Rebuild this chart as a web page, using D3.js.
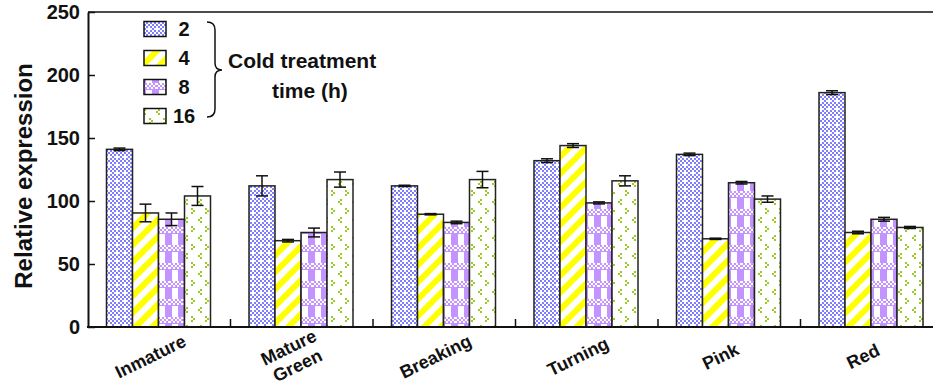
<!DOCTYPE html>
<html>
<head>
<meta charset="utf-8">
<script src="https://cdn.jsdelivr.net/npm/d3@7"></script>
<style>
  body { margin: 0; background: #fff; }
  text { font-family: "Liberation Sans", Arial, Helvetica, sans-serif; font-weight: bold; }
</style>
</head>
<body>
<div id="chart"></div>
<script>
// data
const categories = ["Inmature", "Mature Green", "Breaking", "Turning", "Pink", "Red"];
const seriesNames = ["2", "4", "8", "16"];
const h2 = [141, 112, 112, 132, 137, 186];
const h4 = [90.5, 68.5, 89.5, 144, 70, 75];
const h8 = [85.5, 75, 83, 98.5, 114.5, 85.5];
const h16 = [104, 117, 117, 116, 101.5, 79];
const err2 = [1, 8, 0.5, 1.5, 1, 1.5];
const err4 = [7, 1, 0.5, 1.5, 0.5, 1];
const err8 = [5, 3.5, 1, 0.8, 1, 1.5];
const err16 = [7.5, 6, 6.5, 4, 2.5, 0.8];
const yTicks = [0, 50, 100, 150, 200, 250];

const values = [h2, h4, h8, h16];
const errors = [err2, err4, err8, err16];
const fills = ["url(#pBlue)", "url(#pYellow)", "url(#pPurple)", "url(#pGreen)"];

const W = 933, H = 390;
const plotLeft = 88, plotRight = 943, plotTop = 12, plotBottom = 327;

const svg = d3.select("#chart").append("svg")
  .attr("width", W).attr("height", H);

// patterns
const defs = svg.append("defs");

let pb = defs.append("pattern").attr("id", "pBlue")
  .attr("patternUnits", "userSpaceOnUse").attr("width", 8).attr("height", 8);
pb.append("rect").attr("width", 8).attr("height", 8).attr("fill", "#fff");
for (let i = 0; i < 4; i++) {
  for (let j = 0; j < 4; j++) {
    if ((i + j) % 2 === 0 && !(i === 2 && j === 2)) {
      pb.append("rect").attr("x", i * 2).attr("y", j * 2)
        .attr("width", 2).attr("height", 2).attr("fill", "#7f7fff");
    }
  }
}

let py = defs.append("pattern").attr("id", "pYellow")
  .attr("patternUnits", "userSpaceOnUse").attr("width", 12).attr("height", 12)
  .attr("patternTransform", "rotate(45)");
py.append("rect").attr("width", 12).attr("height", 12).attr("fill", "#fff");
py.append("rect").attr("width", 6).attr("height", 12).attr("fill", "#ffff00");

let pp = defs.append("pattern").attr("id", "pPurple")
  .attr("patternUnits", "userSpaceOnUse").attr("width", 13).attr("height", 18);
pp.append("rect").attr("width", 13).attr("height", 18).attr("fill", "#c394ff");
pp.append("rect").attr("x", 3).attr("y", 0).attr("width", 6).attr("height", 11).attr("fill", "#fff");
for (let i = 0; i < 7; i++) {
  for (let j = 0; j < 3; j++) {
    if ((i + j) % 2 === 0) {
      pp.append("rect").attr("x", i * 2).attr("y", 11 + j * 2)
        .attr("width", 2).attr("height", 2).attr("fill", "#fff");
    }
  }
}

let pg = defs.append("pattern").attr("id", "pGreen")
  .attr("patternUnits", "userSpaceOnUse").attr("width", 14).attr("height", 18);
pg.append("rect").attr("width", 14).attr("height", 18).attr("fill", "#fff");
[[4, 1], [2, 3], [4, 5], [9, 10], [11, 12], [9, 14]].forEach(function (d) {
  pg.append("rect").attr("x", d[0]).attr("y", d[1])
    .attr("width", 2).attr("height", 2).attr("fill", "#99cc22");
});

// scales
const x = d3.scaleBand().domain(categories).range([plotLeft, plotRight]).padding(0);
const xInner = d3.scaleBand().domain(seriesNames).range([18.5, 18.5 + 104]).padding(0);
const y = d3.scaleLinear().domain([0, 250]).range([plotBottom, plotTop]);

// bars
categories.forEach(function (c, ci) {
  seriesNames.forEach(function (s, si) {
    const v = values[si][ci];
    const e = errors[si][ci];
    const bx = x(c) + xInner(s);
    const bw = xInner.bandwidth();
    svg.append("rect")
      .attr("x", bx).attr("y", y(v))
      .attr("width", bw).attr("height", y(0) - y(v))
      .attr("fill", fills[si])
      .attr("stroke", "#222").attr("stroke-width", 1.5);
    const cx = bx + bw / 2;
    const eg = svg.append("g").attr("stroke", "#111").attr("stroke-width", 1.5);
    eg.append("line").attr("x1", cx).attr("x2", cx).attr("y1", y(v - e)).attr("y2", y(v + e));
    eg.append("line").attr("x1", cx - 6).attr("x2", cx + 6).attr("y1", y(v + e)).attr("y2", y(v + e));
    eg.append("line").attr("x1", cx - 6).attr("x2", cx + 6).attr("y1", y(v - e)).attr("y2", y(v - e));
  });
});

// y axis
const yAxis = svg.append("g")
  .attr("transform", "translate(" + plotLeft + ",0)")
  .call(d3.axisLeft(y).tickValues(yTicks).tickSizeInner(-7).tickSizeOuter(0).tickPadding(8));
yAxis.select(".domain").attr("stroke", "#111").attr("stroke-width", 2);
yAxis.selectAll(".tick line").attr("stroke", "#111").attr("stroke-width", 1.5);
yAxis.selectAll(".tick text")
  .style("font-size", "20px").style("font-family", "Liberation Sans, Arial, sans-serif")
  .style("font-weight", "bold").attr("fill", "#111");

// frame top + bottom axis
svg.append("line").attr("x1", plotLeft).attr("x2", W).attr("y1", plotTop).attr("y2", plotTop)
  .attr("stroke", "#111").attr("stroke-width", 1.5);
svg.append("line").attr("x1", plotLeft - 1).attr("x2", W).attr("y1", plotBottom).attr("y2", plotBottom)
  .attr("stroke", "#111").attr("stroke-width", 2);

// group separators on x axis
categories.forEach(function (c, i) {
  if (i === 0) return;
  svg.append("line").attr("x1", x(c)).attr("x2", x(c))
    .attr("y1", plotBottom).attr("y2", plotBottom - 8)
    .attr("stroke", "#111").attr("stroke-width", 1.5);
});

// x labels
categories.forEach(function (c) {
  const t = svg.append("text")
    .attr("transform", "translate(" + (x(c) + x.bandwidth() / 2 - 6) + ",362) rotate(-26)")
    .attr("text-anchor", "middle")
    .style("font-size", "18px").attr("fill", "#111");
  const parts = c.split(" ");
  if (parts.length === 1) {
    t.append("tspan").attr("x", 0).attr("y", 0).text(c);
  } else {
    t.append("tspan").attr("x", 0).attr("y", -10).text(parts[0]);
    t.append("tspan").attr("x", 0).attr("y", 10).text(parts[1]);
  }
});

// y label
svg.append("text")
  .attr("transform", "translate(32,176) rotate(-90)")
  .attr("text-anchor", "middle")
  .style("font-size", "24px").attr("fill", "#111")
  .text("Relative expression");

// legend
const legendY = d3.scalePoint().domain(seriesNames).range([29, 116]);
seriesNames.forEach(function (s, i) {
  svg.append("rect")
    .attr("x", 144).attr("y", legendY(s) - 7.5)
    .attr("width", 22).attr("height", 15)
    .attr("fill", fills[i]).attr("stroke", "#111").attr("stroke-width", 1.5);
  svg.append("text")
    .attr("x", 184).attr("y", legendY(s)).attr("dy", "0.36em")
    .attr("text-anchor", "middle")
    .style("font-size", "20px").attr("fill", "#111")
    .text(s);
});

// brace
svg.append("path")
  .attr("d", "M207,22 Q215,22 215,30 L215,63 Q215,70 222,70 Q215,70 215,77 L215,109 Q215,117 207,117")
  .attr("fill", "none").attr("stroke", "#111").attr("stroke-width", 1.5);

svg.append("text").attr("x", 228).attr("y", 68)
  .style("font-size", "21px").attr("fill", "#111").text("Cold treatment");
svg.append("text").attr("x", 272).attr("y", 98)
  .style("font-size", "21px").attr("fill", "#111").text("time (h)");
</script>
</body>
</html>
